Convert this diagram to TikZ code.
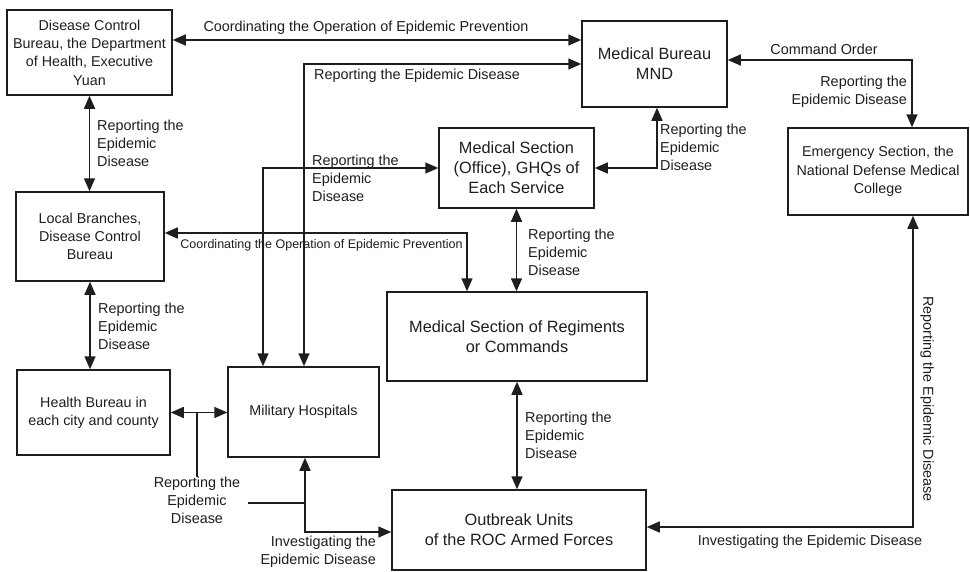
\documentclass[tikz,border=0pt]{standalone}
\usepackage{fontspec}
\setmainfont{Liberation Sans}
\usetikzlibrary{arrows.meta}
\definecolor{ink}{RGB}{30,30,30}
\begin{document}
\begin{tikzpicture}[x=1pt,y=-1pt,
  bigf/.style={font=\fontsize{16.3}{20}\selectfont},
  smallf/.style={font=\fontsize{14.3}{18.3}\selectfont},
  box/.style={draw=ink, line width=1.5pt, align=center, inner sep=0pt, text=ink},
  lab/.style={text=ink, inner sep=0pt, font=\fontsize{14.4}{18}\selectfont},
  con/.style={draw=ink, line width=1.5pt},
  biarr/.style={con, {Triangle[length=13pt,width=11pt]}-{Triangle[length=13pt,width=11pt]}},
]
\useasboundingbox[fill=white] (0,0) rectangle (970,571);

% boxes
\node[box, smallf, minimum width=165pt, minimum height=85pt] (dcb) at (89.5,52.5)
  {Disease Control\\Bureau, the Department\\of Health, Executive\\Yuan};
\node[box, bigf, minimum width=145pt, minimum height=86pt] (mb) at (654.5,64)
  {Medical Bureau\\MND};
\node[box, bigf, minimum width=155pt, minimum height=80pt] (ghq) at (516.5,168)
  {Medical Section\\(Office), GHQs of\\Each Service};
\node[box, smallf, minimum width=180pt, minimum height=87pt] (emg) at (878,171.5)
  {Emergency Section, the\\National Defense Medical\\College};
\node[box, smallf, minimum width=148pt, minimum height=89pt] (lb) at (90,236.5)
  {Local Branches,\\Disease Control\\Bureau};
\node[box, bigf, minimum width=260pt, minimum height=89pt] (msr) at (517,336.5)
  {Medical Section of Regiments\\or Commands};
\node[box, smallf, minimum width=153pt, minimum height=85pt] (hb) at (93.5,412.5)
  {Health Bureau in\\each city and county};
\node[box, smallf, minimum width=151pt, minimum height=90pt] (mh) at (303.5,412)
  {Military Hospitals};
\node[box, bigf, minimum width=254pt, minimum height=80pt] (ou) at (519,530)
  {Outbreak Units\\of the ROC Armed Forces};

% a
\draw[biarr] ([yshift=12.5pt]dcb.east) -- ([yshift=12.5pt]dcb.east -| mb.west);
\node[lab] at (366,28) {Coordinating the Operation of Epidemic Prevention};
% b
\draw[biarr] ([xshift=0.5pt]mh.north) |- (mb.west);
\node[lab] at (417,76) {Reporting the Epidemic Disease};
% c
\draw[biarr] ([xshift=-40.5pt]mh.north) |- (ghq.west);
\node[lab, anchor=west, align=left] at (312,178) {Reporting the\\Epidemic\\Disease};
% d
\draw[biarr] (dcb.south) -- (dcb.south |- lb.north);
\node[lab, anchor=west, align=left] at (97,143) {Reporting the\\Epidemic\\Disease};
% e
\draw[biarr] ([yshift=3.5pt]lb.east) -| ([xshift=-50pt]msr.north);
\node[lab, font=\fontsize{12.5}{15}\selectfont] at (321.5,245) {Coordinating the Operation of Epidemic Prevention};
% f
\draw[biarr] (lb.south) -- (lb.south |- hb.north);
\node[lab, anchor=west, align=left] at (98,326) {Reporting the\\Epidemic\\Disease};
% g
\draw[biarr] (hb.east) -- (hb.east -| mh.west);
\node[lab, align=center] (glab) at (197,500) {Reporting the\\Epidemic\\Disease};
\draw[con] (glab.north) -- (glab.north |- hb.east);
% h
\coordinate (hv) at ([xshift=1.5pt]mh.south);
\draw[biarr] (hv) |- ([yshift=-2pt]ou.west);
\draw[con] ([xshift=8pt,yshift=-3pt]glab.east) -- ([yshift=-3pt]glab.east -| hv);
\node[lab, anchor=east, align=right] at (376,552) {Investigating the\\Epidemic Disease};
% i
\draw[biarr] (ghq.east) -| ([xshift=2.5pt]mb.south);
\node[lab, anchor=west, align=left] at (660,147) {Reporting the\\Epidemic\\Disease};
% j
\draw[biarr] ([yshift=4pt]mb.east) -| ([xshift=34pt]emg.north);
\node[lab] at (824,49) {Command Order};
\node[lab, anchor=east, align=right] at (907,92) {Reporting the\\Epidemic Disease};
% k
\draw[biarr] (ghq.south) -- (ghq.south |- msr.north);
\node[lab, anchor=west, align=left] at (528,252) {Reporting the\\Epidemic\\Disease};
% l
\draw[biarr] (msr.south) -- (msr.south |- ou.north);
\node[lab, anchor=west, align=left] at (525,435) {Reporting the\\Epidemic\\Disease};
% m
\draw[biarr] ([yshift=3pt]ou.east) -| ([xshift=35pt]emg.south);
\node[lab] at (810,542) {Investigating the Epidemic Disease};
\node[lab, rotate=-90] at (927,399) {Reporting the Epidemic Disease};
\end{tikzpicture}
\end{document}
